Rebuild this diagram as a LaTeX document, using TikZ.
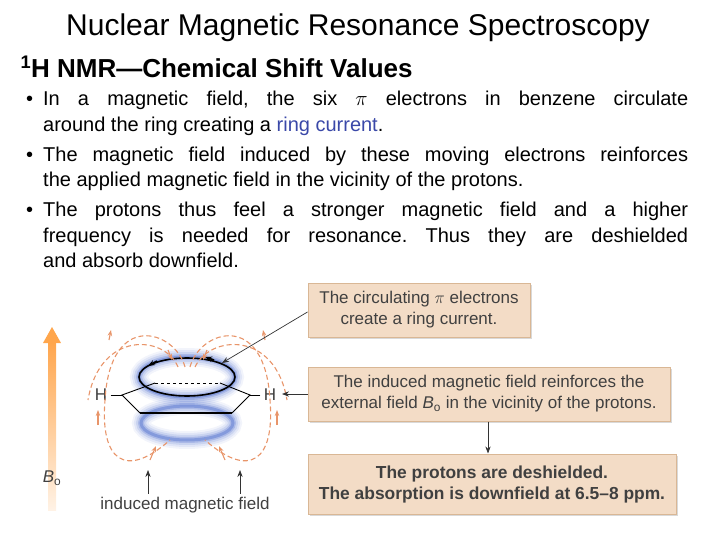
\documentclass[tikz,border=0pt]{standalone}
\usepackage{fontspec}
\setmainfont{Liberation Sans}
\usetikzlibrary{arrows.meta,shadows}
\definecolor{boxfill}{HTML}{F3DCC6}
\definecolor{boxline}{HTML}{D9B795}
\definecolor{fieldor}{HTML}{E8956A}
\definecolor{ringblue}{HTML}{4A6ACC}
\definecolor{linkblue}{HTML}{3A48A8}
\newcommand{\Bnought}{\textit{B}\textsubscript{o}}
\tikzset{
 note/.style={draw=boxline,fill=boxfill,line width=1pt,align=center,font=\fontsize{17}{21}\selectfont,text=black!75,drop shadow={opacity=0.3,shadow xshift=2pt,shadow yshift=-2pt}},
 fld/.style={fieldor,line width=1.1pt,dash pattern=on 5pt off 3pt},
 fa/.style={-{Stealth[length=6pt]}},
 pt/.style={-{Stealth[length=7pt]},black!80,line width=0.7pt}
}
\begin{document}
\begin{tikzpicture}[x=1pt,y=-1pt]
\useasboundingbox (0,0) rectangle (720,540);
\node (title) at (358,28) {\fontsize{30}{33}\selectfont Nuclear Magnetic Resonance Spectroscopy};
\node[anchor=west] (sub) at (17,67) {\fontsize{26}{30}\selectfont\textbf{\textsuperscript{1}H NMR—Chemical Shift Values}};
\node[anchor=north west,inner sep=0pt] (bul) at (26,91) {\parbox{662pt}{\fontsize{20}{25.5}\selectfont\hyphenpenalty=10000\frenchspacing
\leftskip=17pt \parindent=-17pt
\makebox[17pt][l]{•}In a magnetic field, the six $\pi$ electrons in benzene circulate\linebreak around the ring creating a \textcolor{linkblue}{ring current}.\par
\vspace{4.5pt}
\makebox[17pt][l]{•}The magnetic field induced by these moving electrons reinforces\linebreak the applied magnetic field in the vicinity of the protons.\par
\vspace{4.5pt}
\makebox[17pt][l]{•}The protons thus feel a stronger magnetic field and a higher\linebreak frequency is needed for resonance. Thus they are deshielded\linebreak and absorb downfield.\par}};
% boxes
\node[note,minimum width=222pt,minimum height=54pt] (b1) at (419,310) {The circulating $\pi$ electrons\\create a ring current.};
\node[note,minimum width=362pt,minimum height=54pt] (b2) at (489,394) {The induced magnetic field reinforces the\\external field \Bnought{} in the vicinity of the protons.};
\node[note,minimum width=368pt,minimum height=60pt,font=\fontsize{17.4}{21}\selectfont\bfseries] (b3) at (492,484) {The protons are deshielded.\\The absorption is downfield at 6.5–8 ppm.};
% B0 arrow
\shade[bottom color=orange!10,top color=orange!70] (48,510) rectangle (56,342);
\fill[orange!70] (43,343) -- (52,327) -- (61,343) -- cycle;
\node[text=black!75] (B0) at (52,478) {\fontsize{17}{20}\selectfont\Bnought};
% blue donuts
\foreach \w/\o in {18/0.07,14/0.1,10/0.15,6/0.25,3/0.4}{
 \draw[ringblue,opacity=\o,line width=\w pt] (187,377) ellipse (48 and 20);
 \draw[ringblue,opacity=\o,line width=\w pt] (187,423) ellipse (46 and 17);}
% benzene
\coordinate (L) at (122,395); \coordinate (R) at (250,395);
\coordinate (BL) at (155,383); \coordinate (BR) at (220,383);
\coordinate (FL) at (140,413); \coordinate (FR) at (232,413);
\draw[dashed,line width=0.8pt] (BL) -- (BR);
\draw[line width=0.9pt] (BL) -- (L) -- (FL);
\draw[line width=0.9pt] (BR) -- (R) -- (FR);
\draw[line width=2.2pt] (FL) -- (FR);
\node[text=black!75] (HL) at (101,395) {\fontsize{17}{20}\selectfont H};
\node[text=black!75] (HR) at (270,395) {\fontsize{17}{20}\selectfont H};
\draw[line width=0.8pt] (HL) -- (L);
\draw[line width=0.8pt] (HR) -- (R);
% ring current ellipse
\draw[line width=1.6pt] (187,377) ellipse (48 and 19);
\draw[-{Stealth[length=7pt]},line width=1.6pt] (157,361) -- (148,366);
\draw[-{Stealth[length=7pt]},line width=1.6pt] (214,360) -- (205,357);
% field lines
\draw[fld] (185,367) .. controls (175,330) and (110,310) .. (105,400) .. controls (100,460) and (125,480) .. (170,440);
\draw[fld] (190,367) .. controls (200,330) and (265,310) .. (270,400) .. controls (275,460) and (250,480) .. (205,440);
\draw[fld] (178,367) .. controls (165,335) and (100,330) .. (88,400);
\draw[fld] (195,367) .. controls (210,335) and (275,330) .. (287,400);
\foreach \p/\q in {{(109,340)}/{(111,330)},{(265,340)}/{(263,330)},{(98,425)}/{(98,410)},{(277,425)}/{(277,410)},{(150,460)}/{(156,446)},{(225,460)}/{(219,446)},{(168,350)}/{(172,360)},{(207,350)}/{(203,360)}}
 \draw[fieldor,fa,line width=1.1pt] \p -- \q;
% induced field label
\node[text=black!75] (ind) at (185,505) {\fontsize{17}{20}\selectfont induced magnetic field};
\coordinate (i1) at (148,470); \coordinate (i2) at (240,470);
\draw[pt] (ind.north -| i1) -- (i1);
\draw[pt] (ind.north -| i2) -- (i2);
% pointers
\draw[pt] (b1.west |- 0,312) -- (222,363);
\draw[pt] (b2.west) -- (282,394);
\draw[pt] (b2.south -| 488,0) -- (b3.north -| 488,0);
\end{tikzpicture}
\end{document}
